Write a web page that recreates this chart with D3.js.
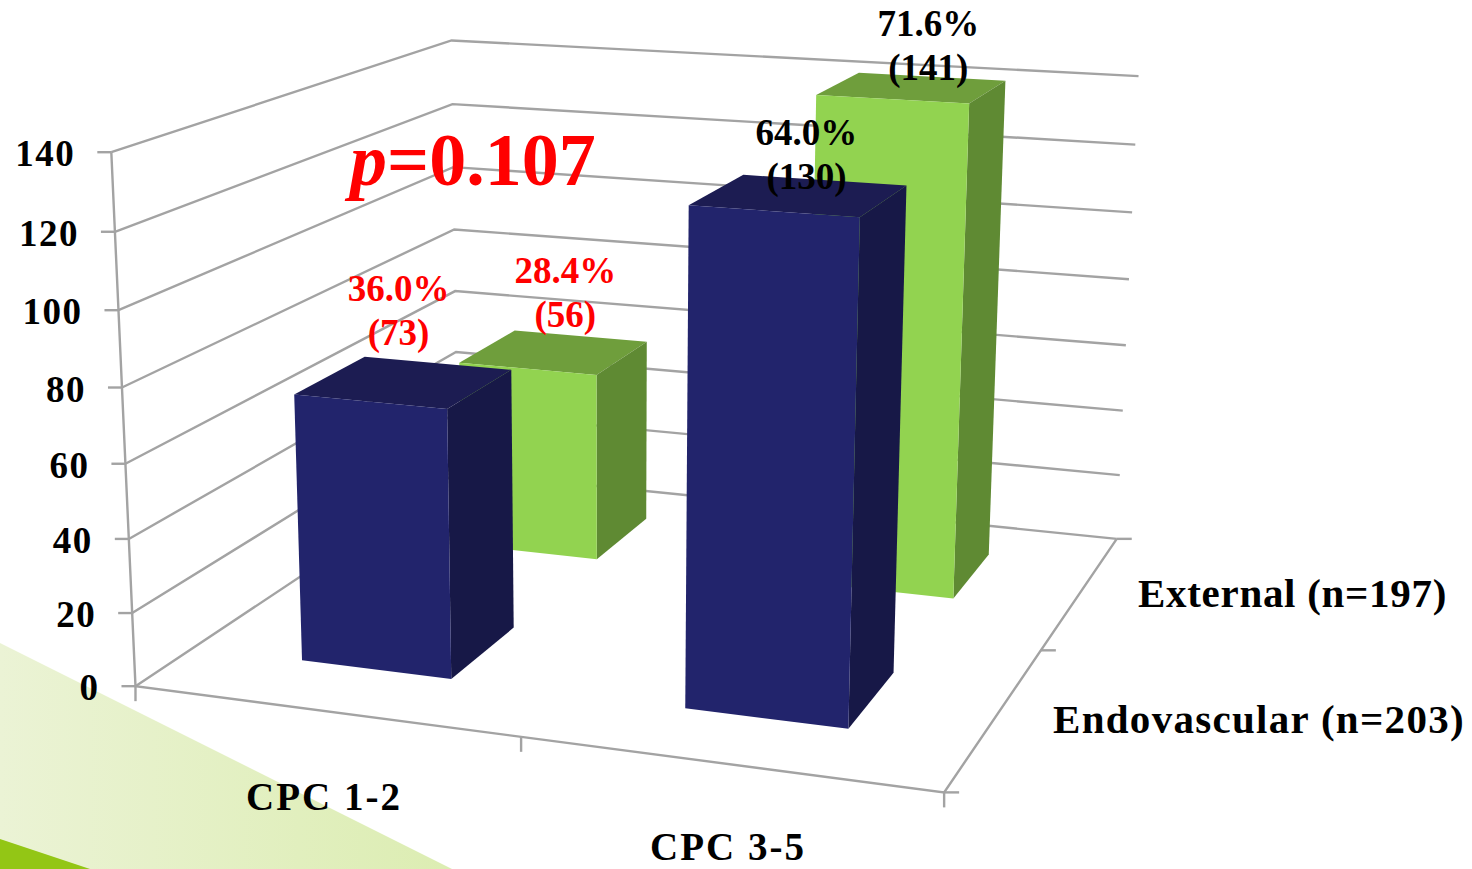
<!DOCTYPE html>
<html>
<head>
<meta charset="utf-8">
<script src="https://cdn.jsdelivr.net/npm/d3@7"></script>
<style>
html,body{margin:0;padding:0;background:#fff;overflow:hidden}
text{font-family:"Liberation Serif",serif;font-weight:bold}
</style>
</head>
<body>
<svg id="chart" width="1472" height="869"></svg>
<script>
// Chart values
const categories = ["CPC 1-2", "CPC 3-5"];
const seriesNames = ["Endovascular (n=203)", "External (n=197)"];
const endovascular = [73, 130];
const external = [56, 141];
const endovascularPct = ["36.0%", "64.0%"];
const externalPct = ["28.4%", "71.6%"];
const valueTicks = [0, 20, 40, 60, 80, 100, 120, 140];
const pValue = "=0.107";

// Camera calibration: box coordinates [u, v, w] -> page coordinates [x, y]
const cameraAnchors = [
  [[0,0,0],[136,684]], [[1,0,0],[948,794]], [[0,0,1],[456,475]], [[1,0,1],[1116,537]],
  [[0,1,0],[110,150]], [[0,1,1],[454,41]],  [[1,1,1],[1139,74]], [[1,1,0],[960,214]],
  [[0.5,0,0],[521,736]], [[1,0,0.5],[1040,650]]
];

// Least-squares fit of a projective camera (3x4 matrix with last entry 1)
function fitCamera(anchors) {
  const n = 11, A = d3.range(n).map(() => new Array(n + 1).fill(0));
  const add = (row, rhs) => {
    for (let i = 0; i < n; i++) {
      for (let j = 0; j < n; j++) A[i][j] += row[i] * row[j];
      A[i][n] += row[i] * rhs;
    }
  };
  anchors.forEach(([[u,v,w],[x,y]]) => {
    add([u,v,w,1,0,0,0,0,-x*u,-x*v,-x*w], x);
    add([0,0,0,0,u,v,w,1,-y*u,-y*v,-y*w], y);
  });
  for (let c = 0; c < n; c++) {
    let p = c;
    for (let r = c + 1; r < n; r++) if (Math.abs(A[r][c]) > Math.abs(A[p][c])) p = r;
    [A[c], A[p]] = [A[p], A[c]];
    for (let r = 0; r < n; r++) {
      if (r === c) continue;
      const f = A[r][c] / A[c][c];
      for (let k = c; k <= n; k++) A[r][k] -= f * A[c][k];
    }
  }
  return A.map((row, i) => row[n] / row[i]);
}
const m = fitCamera(cameraAnchors);
const project = (u, v, w) => {
  const d = m[8]*u + m[9]*v + m[10]*w + 1;
  return [(m[0]*u + m[1]*v + m[2]*w + m[3]) / d, (m[4]*u + m[5]*v + m[6]*w + m[7]) / d];
};

// Scales in box coordinates
const xBand = d3.scaleBand().domain(categories).range([-0.002, 0.998]).paddingInner(0.6).paddingOuter(0.3);
const zBand = d3.scaleBand().domain(seriesNames).range([0, 1.02]).paddingInner(0.6).paddingOuter(0.3);
const yScale = d3.scaleLinear().domain([0, 140]).range([0, 1]);

const svg = d3.select("#chart");
const outline = d3.line();
const closed = pts => outline(pts) + "Z";
const grey = "#a3a3a3";

// Corner decoration
const defs = svg.append("defs");
const grad = defs.append("linearGradient").attr("id", "swoosh");
grad.append("stop").attr("offset", "0").attr("stop-color", "#ebf3d5");
grad.append("stop").attr("offset", "1").attr("stop-color", "#dcedb2");
svg.append("path").attr("d", "M0,643L452,869L0,869Z").attr("fill", "url(#swoosh)");
svg.append("path").attr("d", "M0,839L90,869L0,869Z").attr("fill", "#93c615");

// Walls and floor
const frame = svg.append("g").attr("fill", "none").attr("stroke", grey).attr("stroke-width", 2.4);
valueTicks.forEach(t => {
  const v = yScale(t);
  frame.append("path").attr("d", outline([project(0,v,0), project(0,v,1), project(1,v,1)]));
  const [tx, ty] = project(0, v, 0);
  frame.append("path").attr("d", outline([[tx - 14, ty], [tx, ty]]));
});
frame.append("path").attr("d", outline([project(0,1,0), project(0,0,0), project(1,0,0), project(1,0,1)]));

// Axis stubs
[0, 0.5, 1].forEach(u => {
  const [x, y] = project(u, 0, 0);
  frame.append("path").attr("d", outline([[x, y], [x, y + 15]]));
});
[0, 0.5, 1].forEach(w => {
  const [x, y] = project(1, 0, w);
  frame.append("path").attr("d", outline([[x, y], [x + 15, y]]));
});

// Value tick labels
svg.append("g").selectAll("text").data(valueTicks).join("text")
  .attr("text-anchor", "end")
  .attr("font-size", 37)
  .attr("letter-spacing", 1.5)
  .attr("x", d => project(0, yScale(d), 0)[0] - 36)
  .attr("y", d => project(0, yScale(d), 0)[1] + 14)
  .text(d => d);

// Bars, back row first
const palette = {
  [seriesNames[0]]: {front: "#22246c", side: "#171847", top: "#1c1c52"},
  [seriesNames[1]]: {front: "#92d350", side: "#5f8a33", top: "#6f9e3c"}
};
const rows = [
  {name: seriesNames[1], values: external},
  {name: seriesNames[0], values: endovascular}
];
rows.forEach(row => {
  const c = palette[row.name];
  const w0 = zBand(row.name), w1 = w0 + zBand.bandwidth();
  categories.forEach((cat, i) => {
    const u0 = xBand(cat), u1 = u0 + xBand.bandwidth(), v = yScale(row.values[i]);
    const g = svg.append("g");
    g.append("path").attr("fill", c.top).attr("d", closed([project(u0,v,w0), project(u1,v,w0), project(u1,v,w1), project(u0,v,w1)]));
    g.append("path").attr("fill", c.side).attr("d", closed([project(u1,0,w0), project(u1,v,w0), project(u1,v,w1), project(u1,0,w1)]));
    g.append("path").attr("fill", c.front).attr("d", closed([project(u0,0,w0), project(u1,0,w0), project(u1,v,w0), project(u0,v,w0)]));
  });
});

// Value labels sit above each bar's top face
const labelRows = [
  {name: seriesNames[0], values: endovascular, pct: endovascularPct},
  {name: seriesNames[1], values: external, pct: externalPct}
];
const labelNudge = {
  [seriesNames[0]]: [[-6, -81], [7, -50]],
  [seriesNames[1]]: [[11, -69], [16, -52]]
};
labelRows.forEach(row => {
  categories.forEach((cat, i) => {
    const u = xBand(cat) + xBand.bandwidth() / 2;
    const w = zBand(row.name) + zBand.bandwidth() / 2;
    const [x, y] = project(u, yScale(row.values[i]), w);
    const [dx, dy] = labelNudge[row.name][i];
    const color = i === 0 ? "#ff0000" : "#000";
    const t = svg.append("text").attr("text-anchor", "middle").attr("font-size", 37).attr("fill", color);
    t.append("tspan").attr("x", x + dx).attr("y", y + dy).text(row.pct[i]);
    t.append("tspan").attr("x", x + dx).attr("y", y + dy + 44).text(`(${row.values[i]})`);
  });
});

// Category and series labels
svg.append("text").attr("x", 324).attr("y", 810).attr("text-anchor", "middle").attr("font-size", 39).attr("letter-spacing", 2).text(categories[0]);
svg.append("text").attr("x", 728).attr("y", 860).attr("text-anchor", "middle").attr("font-size", 39).attr("letter-spacing", 2).text(categories[1]);
svg.append("text").attr("x", 1138).attr("y", 607).attr("font-size", 41).attr("letter-spacing", 0.7).text(seriesNames[1]);
svg.append("text").attr("x", 1053).attr("y", 733).attr("font-size", 41).attr("letter-spacing", 1.3).text(seriesNames[0]);

// Significance note
const note = svg.append("text").attr("x", 350).attr("y", 185).attr("font-size", 74).attr("fill", "#ff0000");
note.append("tspan").attr("font-style", "italic").text("p");
note.append("tspan").text(pValue);
</script>
</body>
</html>
